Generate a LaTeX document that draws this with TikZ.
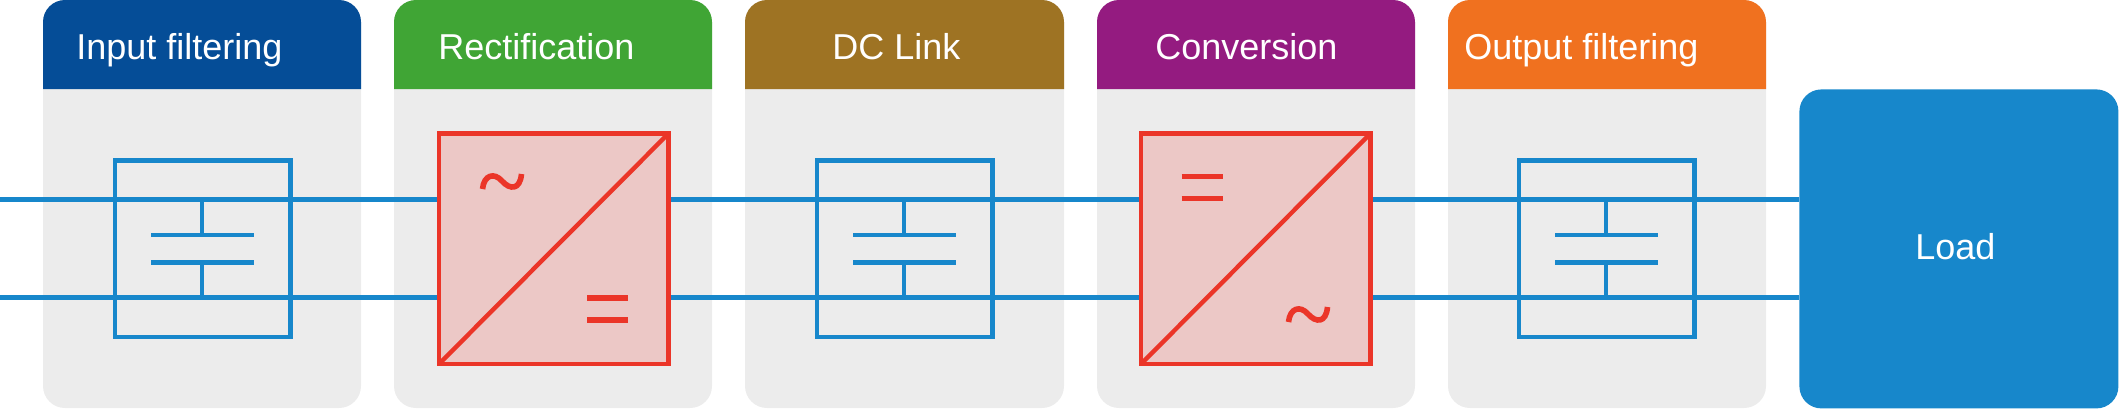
\documentclass[tikz,border=0pt]{standalone}
\usepackage{fontspec}
\setmainfont{Liberation Sans}
\definecolor{wireblue}{HTML}{1787CB}
\definecolor{inblue}{HTML}{054D97}
\definecolor{recgreen}{HTML}{40A535}
\definecolor{linkbrown}{HTML}{9E7323}
\definecolor{convpurple}{HTML}{941B80}
\definecolor{outorange}{HTML}{F0711F}
\definecolor{panelgray}{HTML}{ECECEC}
\definecolor{convred}{HTML}{EB3528}
\definecolor{convpink}{HTML}{ECC8C6}
\begin{document}
\begin{tikzpicture}[x=0.5pt,y=-0.5pt]

    \tikzset{
      title/.style={
        anchor=base west,
        inner sep=0pt,
        text=white,
        font=\fontsize{18pt}{20pt}\selectfont,
      },
      panel/.style={fill=panelgray,rounded corners=11pt},
      header/.style={rounded corners=11pt},
      wire/.style={color=wireblue,line width=2.2pt},
      convbox/.style={draw=convred,fill=convpink,line width=2.2pt},
      sign/.style={color=convred,line width=2.8pt},
      wave/.style={color=convred,line width=2.8pt},
    }
    \useasboundingbox (0,0) rectangle (2119,409);

    % panels
    \fill[panel] (43,0) rectangle (361,408);
    \fill[panel] (394,0) rectangle (712,408);
    \fill[panel] (745,0) rectangle (1064,408);
    \fill[panel] (1097,0) rectangle (1415,408);
    \fill[panel] (1448,0) rectangle (1766,408);

    % headers
    \fill[inblue] (43,89) [header] -- (43,0) -- (361,0) [sharp corners] -- (361,89) -- cycle;
    \fill[recgreen] (394,89) [header] -- (394,0) -- (712,0) [sharp corners] -- (712,89) -- cycle;
    \fill[linkbrown] (745,89) [header] -- (745,0) -- (1064,0) [sharp corners] -- (1064,89) -- cycle;
    \fill[convpurple] (1097,89) [header] -- (1097,0) -- (1415,0) [sharp corners] -- (1415,89) -- cycle;
    \fill[outorange] (1448,89) [header] -- (1448,0) -- (1766,0) [sharp corners] -- (1766,89) -- cycle;

    \node[title] (input) at (76,59.5) {Input filtering};
    \node[title] (rect) at (438,59.5) {Rectification};
    \node[title] (link) at (832,59.5) {DC Link};
    \node[title] (conv) at (1155,59.5) {Conversion};
    \node[title] (output) at (1464,59.5) {Output filtering};

    % load
    \node[fill=wireblue,rounded corners=11pt,minimum width=159.5pt,minimum height=159.5pt,inner sep=0pt,anchor=north west] (load) at (1799,89) {};
    \node[title] (loadtext) at (1915,259) {Load};

    % rails
    \coordinate (top) at (0,199.5);
    \coordinate (bot) at (0,297.5);
    \draw[wire] (top) -- (top -| load.west);
    \draw[wire] (bot) -- (bot -| load.west);

    % capacitors
    \draw[wire] (115,160.5) rectangle (290.5,337);
    \draw[wire] (202,199.5)--(202,235);
    \draw[wire] (151,235)--(253.5,235);
    \draw[wire] (151,262.5)--(253.5,262.5);
    \draw[wire] (202,262.5)--(202,297.5);

    \draw[wire] (817,160.5) rectangle (992.5,337);
    \draw[wire] (904,199.5)--(904,235);
    \draw[wire] (853,235)--(955.5,235);
    \draw[wire] (853,262.5)--(955.5,262.5);
    \draw[wire] (904,262.5)--(904,297.5);

    \draw[wire] (1519,160.5) rectangle (1694.5,337);
    \draw[wire] (1606,199.5)--(1606,235);
    \draw[wire] (1555,235)--(1657.5,235);
    \draw[wire] (1555,262.5)--(1657.5,262.5);
    \draw[wire] (1606,262.5)--(1606,297.5);

    % converters
    \draw[convbox] (439,133.5) rectangle (668.5,364);
    \draw[color=convred,line width=2.2pt] (439,364)--(668.5,133.5);
    \draw[wave] (482.5,189) .. controls (484,175) and (494,172) .. (502,181) .. controls (510,190) and (520,190) .. (521.5,174);
    \draw[sign] (587,298)--(628,298);
    \draw[sign] (587,320)--(628,320);

    \draw[convbox] (1141,133.5) rectangle (1370.5,364);
    \draw[color=convred,line width=2.2pt] (1141,364)--(1370.5,133.5);
    \draw[sign] (1181.5,176.5)--(1223,176.5);
    \draw[sign] (1181.5,198.5)--(1223,198.5);
    \draw[wave] (1288.5,322) .. controls (1290,308) and (1300,305) .. (1308,314) .. controls (1316,323) and (1326,323) .. (1327.5,307);

\end{tikzpicture}
\end{document}
